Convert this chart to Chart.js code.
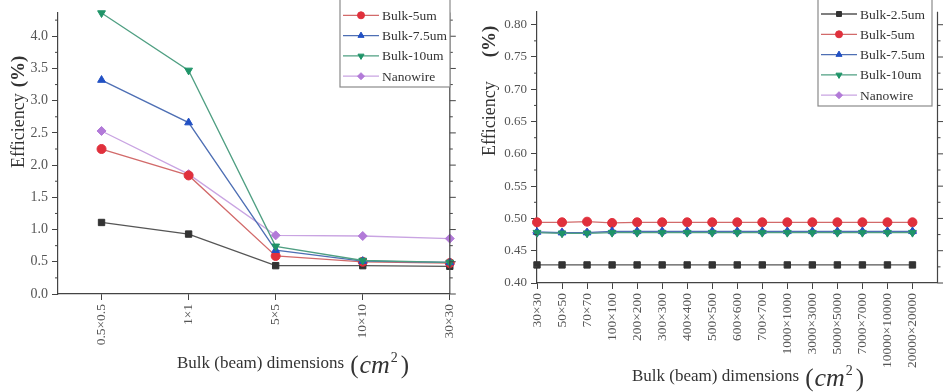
<!DOCTYPE html>
<html>
<head>
<meta charset="utf-8">
<script src="https://cdn.jsdelivr.net/npm/chart.js@4"></script>
<style>
  body { margin: 0; background: #fff; width: 943px; height: 392px; overflow: hidden; }
  .caja { position: absolute; top: 0; height: 392px; }
  #izq { left: 0; width: 470px; }
  #der { left: 470px; width: 473px; }
</style>
</head>
<body>
<div class="caja" id="izq"><canvas id="graficoIzq" width="470" height="392"></canvas></div>
<div class="caja" id="der"><canvas id="graficoDer" width="473" height="392"></canvas></div>
<script>
// datos
const nombres = ["Bulk-2.5um", "Bulk-5um", "Bulk-7.5um", "Bulk-10um", "Nanowire"];

// grafico izquierdo
const etiquetasIzq = ["0.5×0.5", "1×1", "5×5", "10×10", "30×30"];
const izqBulk25 = [1.11, 0.93, 0.44, 0.44, 0.43];
const izqBulk5 = [2.25, 1.84, 0.59, 0.50, 0.48];
const izqBulk75 = [3.32, 2.66, 0.68, 0.51, 0.49];
const izqBulk10 = [4.36, 3.47, 0.74, 0.52, 0.49];
const izqNano = [2.53, 1.86, 0.91, 0.90, 0.86];

// grafico derecho
const etiquetasDer = ["30×30", "50×50", "70×70", "100×100", "200×200", "300×300", "400×400", "500×500",
  "600×600", "700×700", "1000×1000", "3000×3000", "5000×5000", "7000×7000", "10000×10000", "20000×20000"];
const derBulk25 = [0.428, 0.428, 0.428, 0.428, 0.428, 0.428, 0.428, 0.428, 0.428, 0.428, 0.428, 0.428, 0.428, 0.428, 0.428, 0.428];
const derBulk5 = [0.494, 0.494, 0.495, 0.493, 0.494, 0.494, 0.494, 0.494, 0.494, 0.494, 0.494, 0.494, 0.494, 0.494, 0.494, 0.494];
const derBulk75 = [0.479, 0.478, 0.478, 0.480, 0.480, 0.480, 0.480, 0.480, 0.480, 0.480, 0.480, 0.480, 0.480, 0.480, 0.480, 0.480];
const derBulk10 = [0.478, 0.477, 0.477, 0.478, 0.478, 0.478, 0.478, 0.478, 0.478, 0.478, 0.478, 0.478, 0.478, 0.478, 0.478, 0.478];
const derNano = [0.478, 0.478, 0.478, 0.479, 0.479, 0.479, 0.479, 0.479, 0.479, 0.479, 0.479, 0.479, 0.479, 0.479, 0.479, 0.479];

// estilos de cada serie
const colorPunto = ["#333333", "#e0303c", "#2150c4", "#1f9468", "#b27ad8"];
const colorLinea = ["#555555", "#d26a6a", "#4e6fb4", "#4f9f82", "#c9a4e2"];
const formas = ["rect", "circle", "triangle", "triangle", "rectRot"];
const giros = [0, 0, 0, 180, 0];
const capas = [4, 3, 2, 1, 5]; // nanowire queda debajo
const SERIF = "'Liberation Serif', 'DejaVu Serif', serif";

function armarSeries(listas, radio) {
  return listas.map((valores, i) => ({
    label: nombres[i],
    data: valores.map((v, k) => ({ x: k, y: v })),
    borderColor: colorLinea[i],
    backgroundColor: colorPunto[i],
    pointBackgroundColor: colorPunto[i],
    pointBorderColor: colorPunto[i],
    pointBorderWidth: 1,
    pointStyle: formas[i],
    pointRotation: giros[i],
    pointRadius: radio,
    borderWidth: 1.3,
    order: capas[i],
    clip: false
  }));
}

// marco, ticks menores, titulos y leyenda
function pluginMarco(cfg) {
  return {
    id: "marco",
    afterDraw(chart) {
      const ctx = chart.ctx;
      const a = chart.chartArea;
      const ey = chart.scales.y;
      ctx.save();
      ctx.strokeStyle = "#444";
      ctx.lineWidth = 1.2;
      ctx.beginPath();
      ctx.moveTo(a.right, a.top);
      ctx.lineTo(a.right, a.bottom);
      ctx.stroke();

      ctx.lineWidth = 1;
      for (let k = 0; ey.min + k * cfg.menor <= ey.max + 1e-9; k++) {
        const py = ey.getPixelForValue(ey.min + k * cfg.menor);
        const largo = k % 2 === 0 ? 6 : 3;
        ctx.beginPath();
        if (k % 2 === 1) {
          ctx.moveTo(a.left, py);
          ctx.lineTo(a.left - largo, py);
        }
        ctx.moveTo(a.right, py);
        ctx.lineTo(a.right + largo, py);
        ctx.stroke();
      }

      // titulo eje y
      ctx.fillStyle = "#333";
      ctx.translate(cfg.tituloY.x, cfg.tituloY.y);
      ctx.rotate(-Math.PI / 2);
      ctx.textBaseline = "middle";
      ctx.textAlign = "left";
      ctx.font = "18px " + SERIF;
      ctx.fillText("Efficiency", 0, 0);
      const anchoEf = ctx.measureText("Efficiency").width;
      ctx.font = "bold 19px " + SERIF;
      ctx.fillText("(%)", anchoEf + cfg.tituloY.hueco, 0);
      ctx.setTransform(1, 0, 0, 1, 0, 0);

      // titulo eje x
      const tx = cfg.tituloX;
      ctx.textBaseline = "alphabetic";
      ctx.font = "17px " + SERIF;
      ctx.fillText("Bulk (beam) dimensions", tx.x, tx.y);
      let px = tx.x + ctx.measureText("Bulk (beam) dimensions").width + 6;
      ctx.font = "25px " + SERIF;
      ctx.fillText("(", px, tx.y + 5);
      px += ctx.measureText("(").width + 1;
      ctx.font = "italic 26px " + SERIF;
      ctx.fillText("cm", px, tx.y + 5);
      px += ctx.measureText("cm").width + 1;
      ctx.font = "14px " + SERIF;
      ctx.fillText("2", px, tx.y - 6);
      px += ctx.measureText("2").width + 3;
      ctx.font = "25px " + SERIF;
      ctx.fillText(")", px, tx.y + 5);

      // leyenda
      const L = cfg.leyenda;
      ctx.fillStyle = "#fff";
      ctx.fillRect(L.x, L.y, L.w, L.h);
      ctx.strokeStyle = "#8a8a8a";
      ctx.lineWidth = 1.2;
      ctx.strokeRect(L.x, L.y, L.w, L.h);
      ctx.font = "13.5px " + SERIF;
      ctx.textBaseline = "middle";
      chart.data.datasets.forEach((ds, i) => {
        const fy = L.fila0 + i * L.paso;
        ctx.strokeStyle = ds.borderColor;
        ctx.lineWidth = 1.3;
        ctx.beginPath();
        ctx.moveTo(L.x + 3, fy);
        ctx.lineTo(L.x + 39, fy);
        ctx.stroke();
        ctx.fillStyle = ds.pointBackgroundColor;
        ctx.strokeStyle = ds.pointBorderColor;
        ctx.lineWidth = 1;
        Chart.helpers.drawPoint(ctx, { pointStyle: ds.pointStyle, rotation: ds.pointRotation, radius: 3.5, borderWidth: 1 }, L.x + 21, fy);
        ctx.fillStyle = "#333";
        ctx.fillText(ds.label, L.x + 42, fy + 1);
      });
      ctx.restore();
    }
  };
}

function ejes(etiquetas, xmin, xmax, ymin, ymax, paso, decimales, anchoY, altoX, fuenteY) {
  return {
    x: {
      type: "linear",
      min: xmin,
      max: xmax,
      afterFit: s => { s.height = altoX; },
      afterBuildTicks: s => { s.ticks = etiquetas.map((_, i) => ({ value: i })); },
      ticks: {
        callback: v => etiquetas[v],
        minRotation: 90,
        maxRotation: 90,
        autoSkip: false,
        padding: 4,
        color: "#555",
        font: { family: SERIF, size: 13.5 }
      },
      grid: { drawOnChartArea: false, tickLength: 6, color: "#444" },
      border: { color: "#444", width: 1.2 }
    },
    y: {
      min: ymin,
      max: ymax,
      afterFit: s => { s.width = anchoY; },
      afterBuildTicks: s => {
        const lista = [];
        for (let k = 0; ymin + k * paso <= ymax + 1e-9; k++) {
          lista.push({ value: +(ymin + k * paso).toFixed(4) });
        }
        s.ticks = lista;
      },
      ticks: {
        callback: v => v.toFixed(decimales),
        padding: 4,
        color: "#555",
        font: { family: SERIF, size: fuenteY }
      },
      grid: { drawOnChartArea: false, tickLength: 6, color: "#444" },
      border: { color: "#444", width: 1.2 }
    }
  };
}

new Chart(document.getElementById("graficoIzq"), {
  type: "line",
  data: { datasets: armarSeries([izqBulk25, izqBulk5, izqBulk75, izqBulk10, izqNano], 4.5) },
  options: {
    responsive: false,
    animation: false,
    layout: { padding: { top: 11, right: 8, left: 0, bottom: 0 } },
    plugins: { legend: { display: false }, tooltip: { enabled: false } },
    scales: ejes(etiquetasIzq, -0.5, 4, 0, 4.37, 0.5, 1, 58, 98, 14)
  },
  plugins: [pluginMarco({
    menor: 0.25,
    tituloY: { x: 19, y: 168, hueco: 6 },
    tituloX: { x: 177, y: 368 },
    leyenda: { x: 340, y: -20, w: 110, h: 107, fila0: -5, paso: 20.3 }
  })]
});

new Chart(document.getElementById("graficoDer"), {
  type: "line",
  data: { datasets: armarSeries([derBulk25, derBulk5, derBulk75, derBulk10, derNano], 4.5) },
  options: {
    responsive: false,
    animation: false,
    layout: { padding: { top: 11, right: 1, left: 0, bottom: 0 } },
    plugins: { legend: { display: false }, tooltip: { enabled: false } },
    scales: ejes(etiquetasDer, 0, 16, 0.4, 0.82, 0.05, 2, 67, 109, 13)
  },
  plugins: [pluginMarco({
    menor: 0.025,
    tituloY: { x: 20, y: 156, hueco: 24 },
    tituloX: { x: 162, y: 381 },
    leyenda: { x: 348, y: -6, w: 114, h: 112, fila0: 14, paso: 20.3 }
  })]
});
</script>
</body>
</html>
